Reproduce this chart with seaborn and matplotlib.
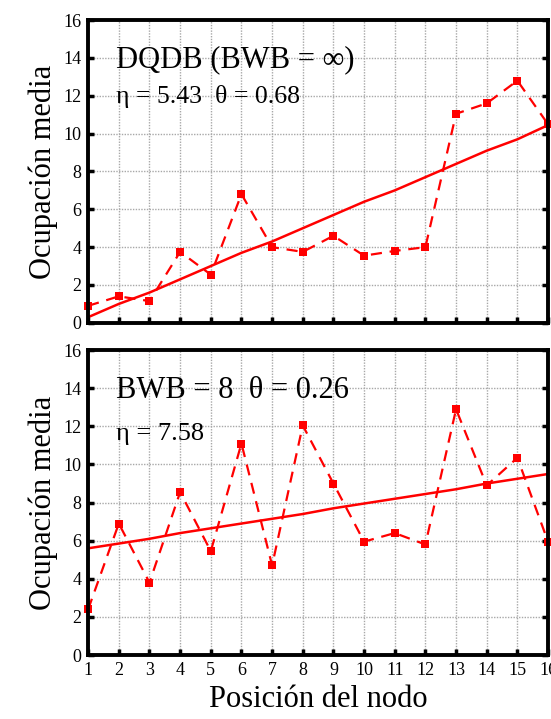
import numpy as np
import pandas as pd
import seaborn as sns
import matplotlib.pyplot as plt

# node positions
nodos = list(range(1, 17))

# DQDB (BWB = inf)
dqdb_ocup = [0.9, 1.4, 1.15, 3.75, 2.55, 6.8, 4.0, 3.75, 4.6, 3.55, 3.8, 4.0, 11.05, 11.6, 12.8, 10.5]
dqdb_ajuste = [0.3, 1.0, 1.6, 2.3, 3.0, 3.7, 4.3, 5.0, 5.7, 6.4, 7.0, 7.7, 8.4, 9.1, 9.7, 10.45]

# BWB = 8
bwb_ocup = [2.4, 6.9, 3.8, 8.55, 5.45, 11.1, 4.7, 12.05, 9.0, 5.95, 6.4, 5.8, 12.9, 8.9, 10.35, 5.95]
bwb_ajuste = [5.6, 5.85, 6.1, 6.4, 6.65, 6.9, 7.15, 7.4, 7.7, 7.95, 8.2, 8.45, 8.7, 9.0, 9.25, 9.5]

yticks = list(range(0, 17, 2))

sns.set_style("ticks")
plt.rcParams['font.family'] = ['Liberation Serif', 'DejaVu Serif']
plt.rcParams['text.color'] = 'black'
plt.rcParams['axes.labelcolor'] = 'black'

fig = plt.figure(figsize=(5.51, 7.19), dpi=100)
ax1 = fig.add_axes([0.16, 0.551, 0.8346, 0.421])
ax2 = fig.add_axes([0.16, 0.089, 0.8346, 0.424])

paneles = [
    (ax1, dqdb_ocup, dqdb_ajuste),
    (ax2, bwb_ocup, bwb_ajuste),
]

for ax, ocup, ajuste in paneles:
    df = pd.DataFrame({"nodo": nodos, "ocup": ocup, "ajuste": ajuste})
    sns.lineplot(data=df, x="nodo", y="ocup", ax=ax, color="#ff0000",
                 linestyle=(0, (5, 3.5)), linewidth=1.6, marker="s",
                 markersize=6, markeredgewidth=0, clip_on=False)
    sns.lineplot(data=df, x="nodo", y="ajuste", ax=ax, color="#ff0000",
                 linewidth=1.8)
    ax.set_xlim(1, 16)
    ax.set_ylim(0, 16)
    ax.set_xticks(nodos)
    ax.set_yticks(yticks)
    ax.grid(True, color="#a8a8a8", linestyle=(0, (1, 1)), linewidth=1.0)
    ax.tick_params(direction="in", length=4, width=2.5, right=True,
                   labelsize=13, pad=5, color="black", labelcolor="black")
    for s in ax.spines.values():
        s.set_linewidth(2.8)
        s.set_color("black")
        s.set_visible(True)
    ax.set_ylabel("Ocupación media", fontsize=22, labelpad=4, color="black")
    ax.set_xlabel("")

ax1.set_xticklabels([])
ax2.set_xlabel("Posición del nodo", fontsize=22, labelpad=4, color="black")

ax1.text(1.9, 13.5, "DQDB (BWB = \u221e)", fontsize=22, color="black")
ax1.text(1.9, 11.6, "\u03b7 = 5.43  \u03b8 = 0.68", fontsize=18.5, color="black")
ax2.text(1.9, 13.5, "BWB = 8  \u03b8 = 0.26", fontsize=22, color="black")
ax2.text(1.9, 11.3, "\u03b7 = 7.58", fontsize=19, color="black")

fig.savefig("out.png", dpi=100)
